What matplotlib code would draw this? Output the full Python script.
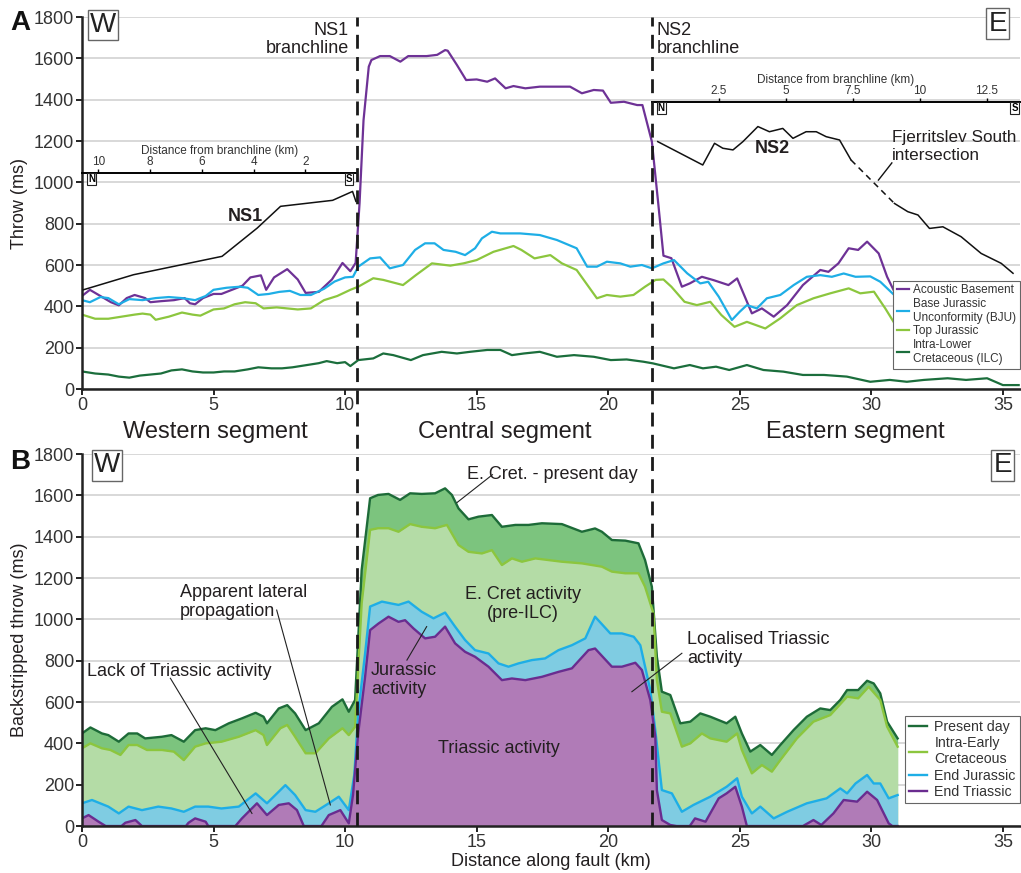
import matplotlib
matplotlib.use('Agg')
import matplotlib.pyplot as plt
from matplotlib import transforms
from matplotlib.lines import Line2D

plt.rcParams['font.family'] = ['Liberation Sans', 'DejaVu Sans']

# %% data: panel A (throw, ms) vs distance along fault (km)

ab_km = [0, 0.3, 0.7, 1.1, 1.4, 1.7, 2.0, 2.4, 2.6, 3.0, 3.5, 3.9, 4.1, 4.3, 4.6, 5.0, 5.3, 5.7, 6.1, 6.4,
         6.8, 7.0, 7.3, 7.8, 8.2, 8.5, 9.0, 9.5, 9.9, 10.2, 10.4, 10.55, 10.7, 10.9, 11.0, 11.33, 11.7, 12.1, 12.4, 13.1,
         13.5, 13.8, 13.9, 14.25, 14.6, 15.0, 15.4, 15.7, 16.1, 16.4, 16.85, 17.4, 18.55, 19.0, 19.45, 19.8, 20.1, 20.6, 21.1, 21.3,
         21.66, 21.9, 22.1, 22.4, 22.8, 23.1, 23.56, 24.0, 24.57, 24.9, 25.46, 25.84, 26.29, 26.8, 27.4, 28.06, 28.37, 28.75, 29.14, 29.5,
         29.84, 30.28, 30.6, 31.0]
ab_ms = [450, 480, 450, 420, 405, 440, 455, 440, 420, 425, 430, 440, 415, 410, 440, 460, 460, 480, 500, 540,
         550, 480, 540, 580, 530, 465, 470, 530, 610, 570, 610, 900, 1300, 1560, 1592, 1611, 1611, 1584, 1611, 1611,
         1617, 1640, 1637, 1568, 1495, 1498, 1487, 1503, 1455, 1466, 1455, 1463, 1463, 1431, 1447, 1444, 1385, 1390, 1374, 1374,
         1197, 900, 645, 633, 495, 511, 543, 527, 503, 535, 366, 390, 350, 406, 503, 576, 567, 608, 681, 673,
         713, 656, 543, 439]

bju_km = [0, 0.3, 0.7, 1.0, 1.4, 1.8, 2.3, 2.8, 3.3, 3.8, 4.3, 4.7, 5.0, 5.5, 6.0, 6.3, 6.7, 7.1, 7.5, 7.9,
          8.3, 8.7, 9.2, 9.6, 10.0, 10.3,
          10.5, 10.95, 11.33, 11.7, 12.2, 12.66, 13.04, 13.4, 13.74, 14.2, 14.56, 14.94, 15.2, 15.58, 15.9, 16.65, 17.4, 18.05, 18.8, 19.2,
          19.57, 19.95, 20.46, 20.84, 21.28, 21.66, 22.1, 22.5,
          23.0, 23.5, 23.8, 24.2, 24.7, 25.0, 25.27, 25.65, 26.03, 26.54, 27.05, 27.55, 28.06, 28.5, 28.95, 29.4, 29.96, 30.34, 31.0]
bju_ms = [430, 420, 445, 440, 410, 435, 430, 440, 445, 440, 430, 450, 480, 490, 495, 490, 455, 460, 470, 475,
          455, 455, 485, 520, 540, 543,
          592, 632, 637, 584, 600, 673, 705, 705, 673, 664, 648, 681, 729, 761, 753, 753, 745, 721, 681, 592,
          592, 616, 608, 592, 600, 584, 608, 624,
          560, 511, 519, 447, 334, 374, 406, 390, 439, 455, 503, 543, 551, 543, 559, 543, 545, 519, 439]

tj_km = [0, 0.5, 1.0, 1.5, 2.0, 2.3, 2.6, 2.8, 3.3, 3.8, 4.2, 4.5, 5.0, 5.4, 5.8, 6.2, 6.6, 6.9, 7.4, 7.8,
         8.2, 8.7, 9.2, 9.7, 10.2,
         10.5, 11.07, 11.45, 12.2, 12.7, 13.3, 14.0, 14.5, 15.0, 15.64, 16.4, 16.7, 17.2, 17.8, 18.24, 18.8, 19.57, 19.95, 20.46, 20.96,
         21.4, 21.8, 22.1, 22.4,
         22.9, 23.37, 23.88, 24.3, 24.8, 25.27, 25.97, 26.54, 27.17, 27.8, 28.44, 29.14, 29.58, 30.1, 30.53, 31.0]
tj_ms = [360, 340, 340, 350, 360, 365, 360, 335, 350, 370, 360, 355, 385, 390, 410, 420, 415, 390, 395, 390,
         385, 390, 430, 450, 480,
         495, 536, 528, 503, 552, 608, 597, 608, 624, 664, 692, 673, 632, 648, 608, 576, 439, 455, 447, 455,
         495, 528, 530, 495,
         422, 406, 422, 358, 301, 325, 293, 342, 406, 439, 463, 487, 463, 471, 390, 293]

ilc_km = [0, 0.5, 1.0, 1.4, 1.8, 2.2, 2.6, 3.0, 3.4, 3.8, 4.2, 4.6, 5.0, 5.4, 5.8, 6.3, 6.7, 7.2, 7.6, 8.0,
          8.5, 9.0, 9.3, 9.7, 10.0, 10.2, 10.5, 11.07, 11.45, 11.83, 12.5, 12.96, 13.67, 14.25, 14.75, 15.4, 15.9, 16.34, 16.8, 17.4,
          18.05, 18.7, 19.45, 20.1, 20.7, 21.34, 21.7, 22.5, 23.1, 23.6, 24.1, 24.6, 25.27, 25.9, 26.66, 27.4, 28.2, 29.07, 29.96, 30.7,
          31.35, 32.0, 32.9, 33.6, 34.4, 35.0, 35.6]
ilc_ms = [85, 75, 70, 60, 55, 65, 70, 75, 90, 95, 85, 80, 80, 85, 85, 95, 105, 100, 100, 105,
          115, 125, 135, 125, 130, 111, 140, 148, 172, 164, 140, 164, 180, 172, 180, 189, 189, 164, 172, 180,
          156, 164, 156, 140, 143, 132, 124, 100, 116, 100, 108, 92, 116, 92, 84, 68, 68, 60, 35, 44,
          35, 44, 52, 44, 52, 19, 19]

# branchline throw profiles (distance from branchline, km)
ns1_d = [10.58, 8.64, 5.22, 3.86, 2.96, 0.95, 0.18, 0.05]
ns1_ms = [480, 553, 642, 779, 884, 913, 956, 908]

ns2_d = [0.22, 1.9, 2.34, 2.65, 3.03, 3.4, 3.96, 4.39, 4.89, 5.27, 5.76, 6.14, 6.51, 7.01, 7.44,
         9.06, 9.56, 9.94, 10.37, 10.87, 11.55, 12.3, 13.05, 13.49]
ns2_ms = [1197, 1084, 1189, 1165, 1157, 1197, 1270, 1245, 1261, 1213, 1245, 1245, 1221, 1205, 1108,
          898, 858, 842, 777, 785, 737, 656, 608, 560]
ns2_gap = 14  # dashed between this point and the next

# %% data: panel B (backstripped throw, ms)

pd_km = [0, 0.32, 0.76, 1.0, 1.4, 1.77, 2.1, 2.4, 3.04, 3.4, 3.87, 4.3, 4.7, 5.07, 5.58, 6.08, 6.6, 6.9, 7.03, 7.48,
         7.8, 8.1, 8.5, 9.0, 9.5, 9.9, 10.14, 10.38, 10.63, 10.95, 11.25, 11.65, 12.09, 12.47, 12.91, 13.42, 13.8, 14.06, 14.31, 14.69,
         15.07, 15.58, 15.96, 16.47, 16.97, 17.48, 18.24, 19.0, 19.5, 19.76, 20.14, 20.65, 21.15, 21.4, 21.66, 21.85, 22.04, 22.36, 22.74, 23.12,
         23.5, 23.88, 24.5, 24.83, 25.08, 25.4, 25.78, 26.22, 26.54, 27.05, 27.55, 28.06, 28.44, 28.82, 29.08, 29.5, 29.84, 30.09, 30.34, 30.6,
         31.0]
pd_ms = [448, 477, 448, 440, 408, 448, 448, 424, 432, 440, 408, 464, 473, 464, 497, 521, 548, 529, 497, 569,
         585, 545, 464, 497, 577, 613, 553, 610, 1239, 1586, 1602, 1607, 1578, 1610, 1607, 1610, 1634, 1602, 1537, 1484,
         1497, 1505, 1448, 1457, 1457, 1465, 1461, 1424, 1440, 1424, 1384, 1381, 1368, 1287, 1158, 819, 650, 634, 497, 505,
         545, 529, 497, 529, 448, 360, 392, 344, 392, 465, 529, 569, 561, 610, 658, 658, 703, 690, 642, 505,
         424]

iec_km = [0, 0.32, 0.76, 1.08, 1.46, 1.77, 2.1, 2.47, 3.04, 3.49, 3.87, 4.3, 4.7, 5.3, 5.96, 6.6, 6.9, 7.03, 7.54, 7.8,
          8.1, 8.5, 8.87, 9.38, 9.9, 10.14, 10.38, 10.63, 10.95, 11.25, 11.65, 12.03, 12.47, 12.91, 13.42, 13.87, 14.31, 14.69, 15.2, 15.58,
          15.96, 16.34, 16.72, 17.23, 17.73, 18.24, 19.0, 19.76, 20.14, 20.65, 21.15, 21.4, 21.72, 21.85, 22.04, 22.36, 22.8, 23.12, 23.56, 23.88,
          24.5, 24.9, 25.08, 25.46, 25.84, 26.22, 26.54, 27.17, 27.8, 28.44, 29.08, 29.5, 29.9, 30.34, 30.6, 31.0]
iec_ms = [376, 400, 376, 368, 344, 392, 392, 368, 368, 360, 319, 384, 400, 408, 432, 464, 440, 392, 473, 489,
          432, 352, 352, 424, 473, 440, 480, 1078, 1433, 1441, 1441, 1424, 1461, 1448, 1441, 1457, 1360, 1327, 1319, 1335,
          1263, 1295, 1279, 1295, 1287, 1279, 1271, 1255, 1231, 1223, 1223, 1158, 1029, 706, 553, 545, 384, 400, 448, 424,
          408, 448, 368, 255, 295, 263, 319, 424, 505, 537, 626, 618, 674, 610, 481, 384]

ej_km = [0, 0.38, 1.0, 1.4, 1.77, 2.28, 2.9, 3.4, 3.87, 4.3, 4.8, 5.3, 5.96, 6.6, 7.03, 7.73, 8.1, 8.5, 8.87, 9.38,
         9.76, 10.14, 10.35, 10.5, 10.76, 10.95, 11.4, 11.71, 12.03, 12.41, 12.91, 13.36, 13.8, 14.18, 14.56, 14.94, 15.45, 15.83, 16.21, 16.59,
         17.1, 17.6, 18.11, 18.62, 19.13, 19.5, 20.08, 20.52, 20.97, 21.22, 21.6, 21.79, 22.04, 22.42, 22.8, 23.24, 23.88, 24.5, 24.9, 25.08,
         25.46, 25.78, 26.29, 26.8, 27.55, 28.3, 28.82, 29.08, 29.4, 29.84, 30.09, 30.34, 30.66, 31.0]
ej_ms = [110, 126, 94, 61, 94, 77, 94, 85, 69, 94, 94, 85, 94, 158, 110, 198, 150, 77, 69, 110,
         142, 77, 250, 550, 835, 1062, 1086, 1078, 1070, 1086, 1037, 1005, 1033, 965, 900, 851, 835, 787, 771, 787,
         803, 811, 851, 875, 908, 1013, 932, 932, 916, 875, 658, 464, 174, 158, 69, 102, 142, 190, 231, 142,
         61, 94, 37, 69, 110, 134, 182, 158, 206, 247, 206, 206, 134, 150]

et_km = [0, 0.25, 0.63, 0.9, 1.5, 1.65, 2.03, 2.28, 3.95, 4.05, 4.3, 4.7, 4.8, 5.83, 6.08, 6.65, 7.03, 7.48, 7.86, 8.17,
         8.43, 9.1, 9.38, 9.82, 10.14, 10.3, 10.5, 10.76, 10.95, 11.27, 11.65, 12.03, 12.28, 12.6, 13.04, 13.42, 13.8, 14.18, 14.56, 14.94,
         15.45, 15.96, 16.34, 16.85, 17.48, 18.11, 18.62, 19.25, 19.5, 20.14, 20.52, 21.03, 21.28, 21.6, 21.79, 21.85, 22.04, 22.36, 22.6, 23.1,
         23.3, 23.7, 24.2, 24.5, 24.83, 25.08, 25.27, 27.4, 27.8, 28.1, 28.56, 28.95, 29.46, 29.84, 30.22, 30.66, 30.8, 31.0]
et_ms = [37, 53, 21, 0, 0, 16, 29, 0, 0, 16, 37, 21, 0, 0, 37, 110, 53, 102, 110, 77,
         0, 0, 53, 77, 13, 150, 450, 722, 948, 980, 1013, 988, 996, 956, 908, 916, 965, 884, 843, 819,
         771, 706, 714, 706, 722, 746, 763, 851, 859, 771, 771, 790, 755, 609, 432, 174, 29, 5, 0, 0,
         37, 21, 134, 158, 190, 94, 0, 0, 29, 5, 61, 126, 118, 166, 126, 13, 0, 0]

ns1_pos = 10.46   # NS1 branchline (km along fault)
ns2_pos = 21.66   # NS2 branchline

segments = ['Western segment', 'Central segment', 'Eastern segment']
segment_x = [5.06, 16.08, 29.4]

# %% figure

text_col = '#231f20'
grid_col = '#d6d6d6'

fig = plt.figure(figsize=(10.21, 8.73), dpi=100)
ax_a = fig.add_axes([0.0803, 0.5544, 0.9187, 0.4261])
ax_b = fig.add_axes([0.0803, 0.0538, 0.9187, 0.4261])


def style_axes(ax):
    ax.set_xlim(0, 35.65)
    ax.set_ylim(0, 1800)
    ax.set_xticks(range(0, 36, 5))
    ax.set_yticks(range(0, 1801, 200))
    ax.grid(axis='y', color=grid_col, lw=1.3)
    ax.set_axisbelow(True)
    for s in ['top', 'right']:
        ax.spines[s].set_visible(False)
    for s in ['left', 'bottom']:
        ax.spines[s].set_linewidth(1.8)
        ax.spines[s].set_color('#222222')
    ax.tick_params(labelsize=13, width=1.4, length=4, pad=1.5, colors='#222222', labelcolor='#333333')


def box_letter(ax, x, y, s):
    ax.text(x, y, s, fontsize=20, ha='center', va='center', color='#222222',
            bbox=dict(boxstyle='square,pad=0.08', fc='white', ec='#666666', lw=1.0))


# ---- panel A
style_axes(ax_a)
ax_a.plot(ab_km, ab_ms, color='#6e3296', lw=1.6, label='Acoustic Basement')
ax_a.plot(bju_km, bju_ms, color='#1eaee6', lw=1.6, label='Base Jurassic\nUnconformity (BJU)')
ax_a.plot(tj_km, tj_ms, color='#8cc63e', lw=1.6, label='Top Jurassic')
ax_a.plot(ilc_km, ilc_ms, color='#1b6e3c', lw=1.6, label='Intra-Lower\nCretaceous (ILC)')
ax_a.set_ylabel('Throw (ms)', fontsize=13, color=text_col, labelpad=4)

leg_a = ax_a.legend(loc='lower right', bbox_to_anchor=(1.0, 0.055), fontsize=8.5, frameon=True,
                    fancybox=False, edgecolor='#666666', framealpha=1, handlelength=1.0,
                    handletextpad=0.4, labelspacing=0.15, borderpad=0.3, borderaxespad=0)
leg_a.get_frame().set_linewidth(0.8)
for t in leg_a.get_texts():
    t.set_color('#333333')

# NS1 inset axis (distance from branchline, reversed)
ins1 = ax_a.inset_axes([0, 947, ns1_pos, 100], transform=ax_a.transData)
ins1.set_xlim(10.63, 0)
ins1.set_ylim(947, 1047)
ins1.patch.set_visible(False)
for s in ['left', 'right', 'bottom']:
    ins1.spines[s].set_visible(False)
ins1.spines['top'].set_linewidth(1.4)
ins1.xaxis.tick_top()
ins1.xaxis.set_label_position('top')
ins1.set_xticks([10, 8, 6, 4, 2])
ins1.set_yticks([])
ins1.tick_params(axis='x', labelsize=8.5, length=3, width=1, pad=0.5, labelcolor='#333333')
ins1.set_xlabel('Distance from branchline (km)', fontsize=8.5, color='#333333', labelpad=1)
ins1.plot(ns1_d, ns1_ms, color='#111111', lw=1.1, clip_on=False)
for xf, s in [(0.036, 'N'), (0.97, 'S')]:
    ins1.text(xf, 0.93, s, transform=ins1.transAxes, fontsize=7, fontweight='bold', ha='center', va='top',
              bbox=dict(boxstyle='square,pad=0.1', fc='white', ec='#222222', lw=0.8))

# NS2 inset axis
ins2 = ax_a.inset_axes([ns2_pos, 1291, 35.65 - ns2_pos, 100], transform=ax_a.transData)
ins2.set_xlim(0, 13.75)
ins2.set_ylim(1291, 1391)
ins2.patch.set_visible(False)
for s in ['left', 'right', 'bottom']:
    ins2.spines[s].set_visible(False)
ins2.spines['top'].set_linewidth(1.4)
ins2.xaxis.tick_top()
ins2.xaxis.set_label_position('top')
ins2.set_xticks([2.5, 5, 7.5, 10, 12.5])
ins2.set_xticklabels(['2.5', '5', '7.5', '10', '12.5'])
ins2.set_yticks([])
ins2.tick_params(axis='x', labelsize=8.5, length=3, width=1, pad=0.5, labelcolor='#333333')
ins2.set_xlabel('Distance from branchline (km)', fontsize=8.5, color='#333333', labelpad=1)
ins2.plot(ns2_d[:ns2_gap + 1], ns2_ms[:ns2_gap + 1], color='#111111', lw=1.1, clip_on=False)
ins2.plot(ns2_d[ns2_gap:ns2_gap + 2], ns2_ms[ns2_gap:ns2_gap + 2], color='#111111', lw=1.1,
          ls=(0, (4, 3)), clip_on=False)
ins2.plot(ns2_d[ns2_gap + 1:], ns2_ms[ns2_gap + 1:], color='#111111', lw=1.1, clip_on=False)
for xf, s in [(0.025, 'N'), (0.985, 'S')]:
    ins2.text(xf, 0.93, s, transform=ins2.transAxes, fontsize=7, fontweight='bold', ha='center', va='top',
              bbox=dict(boxstyle='square,pad=0.1', fc='white', ec='#222222', lw=0.8))

ax_a.text(6.2, 834, 'NS1', fontsize=13, fontweight='bold', ha='center', va='center', color=text_col)
ax_a.text(26.22, 1166, 'NS2', fontsize=13, fontweight='bold', ha='center', va='center', color=text_col)
ax_a.text(10.15, 1775, 'NS1\nbranchline', fontsize=13, ha='right', va='top', color=text_col, linespacing=1.1)
ax_a.text(21.85, 1775, 'NS2\nbranchline', fontsize=13, ha='left', va='top', color=text_col, linespacing=1.1)
ax_a.text(30.8, 1175, 'Fjerritslev South\nintersection', fontsize=12.3, ha='left', va='center',
          color=text_col, linespacing=1.25)
ax_a.plot([30.78, 30.27], [1094, 1011], color='#111111', lw=1.0)
box_letter(ax_a, 0.8, 1762, 'W')
box_letter(ax_a, 34.8, 1768, 'E')

# ---- panel B
style_axes(ax_b)
ax_b.fill_between(pd_km, 0, pd_ms, color='#7cc47e', lw=0)
ax_b.fill_between(iec_km, 0, iec_ms, color='#b4dca6', lw=0)
ax_b.fill_between(ej_km, 0, ej_ms, color='#7fcce2', lw=0)
ax_b.fill_between(et_km, 0, et_ms, color='#b07bb7', lw=0)
ax_b.plot(pd_km, pd_ms, color='#1d6b38', lw=1.7, label='Present day')
ax_b.plot(iec_km, iec_ms, color='#8cc63e', lw=1.7, label='Intra-Early\nCretaceous')
ax_b.plot(ej_km, ej_ms, color='#1eaee6', lw=1.7, label='End Jurassic')
ax_b.plot(et_km, et_ms, color='#6a2c8f', lw=1.7, label='End Triassic')
ax_b.set_ylabel('Backstripped throw (ms)', fontsize=13, color=text_col, labelpad=4)
ax_b.set_xlabel('Distance along fault (km)', fontsize=13, color=text_col, labelpad=2)

leg_b = ax_b.legend(loc='lower right', bbox_to_anchor=(1.0, 0.062), fontsize=10.2, frameon=True,
                    fancybox=False, edgecolor='#666666', framealpha=1, handlelength=1.3,
                    handletextpad=0.5, labelspacing=0.15, borderpad=0.3, borderaxespad=0)
leg_b.get_frame().set_linewidth(0.8)
for t in leg_b.get_texts():
    t.set_color('#333333')

ann = dict(fontsize=13, color=text_col)
ax_b.text(17.86, 1699, 'E. Cret. - present day', ha='center', va='center', **ann)
ax_b.text(16.76, 1074, 'E. Cret activity\n(pre-ILC)', ha='center', va='center', linespacing=1.15, **ann)
ax_b.text(10.98, 706, 'Jurassic\nactivity', ha='left', va='center', linespacing=1.15, **ann)
ax_b.text(15.86, 373, 'Triassic activity', ha='center', va='center', **ann)
ax_b.text(3.73, 1085, 'Apparent lateral\npropagation', ha='left', va='center', linespacing=1.15, **ann)
ax_b.text(0.2, 750, 'Lack of Triassic activity', ha='left', va='center', **ann)
ax_b.text(23.0, 857, 'Localised Triassic\nactivity', ha='left', va='center', linespacing=1.15, **ann)

leaders = [([3.36, 6.46], [715, 61]), ([7.4, 9.44], [1045, 102]), ([15.6, 14.25], [1700, 1565]),
           ([12.35, 13.1], [803, 965]), ([22.8, 20.9], [836, 650])]
for lx, ly in leaders:
    ax_b.plot(lx, ly, color='#222222', lw=0.8)

box_letter(ax_b, 0.95, 1745, 'W')
box_letter(ax_b, 35.0, 1745, 'E')

for s, x in zip(segments, segment_x):
    ax_b.text(x, 1.06, s, transform=ax_b.get_xaxis_transform(), fontsize=17, ha='center', va='center',
              color=text_col)

# branchlines spanning both panels
blend = transforms.blended_transform_factory(ax_b.transData, fig.transFigure)
for xb in [ns1_pos, ns2_pos]:
    fig.lines.append(Line2D([xb, xb], [0.0538, 0.9805], transform=blend, color='#1a1a1a', lw=2.0,
                            ls=(0, (5, 3)), zorder=5))

fig.text(0.01, 0.974, 'A', fontsize=20, fontweight='bold', va='center', color='#111111')
fig.text(0.01, 0.471, 'B', fontsize=20, fontweight='bold', va='center', color='#111111')

fig.savefig('out.png', dpi=100)
